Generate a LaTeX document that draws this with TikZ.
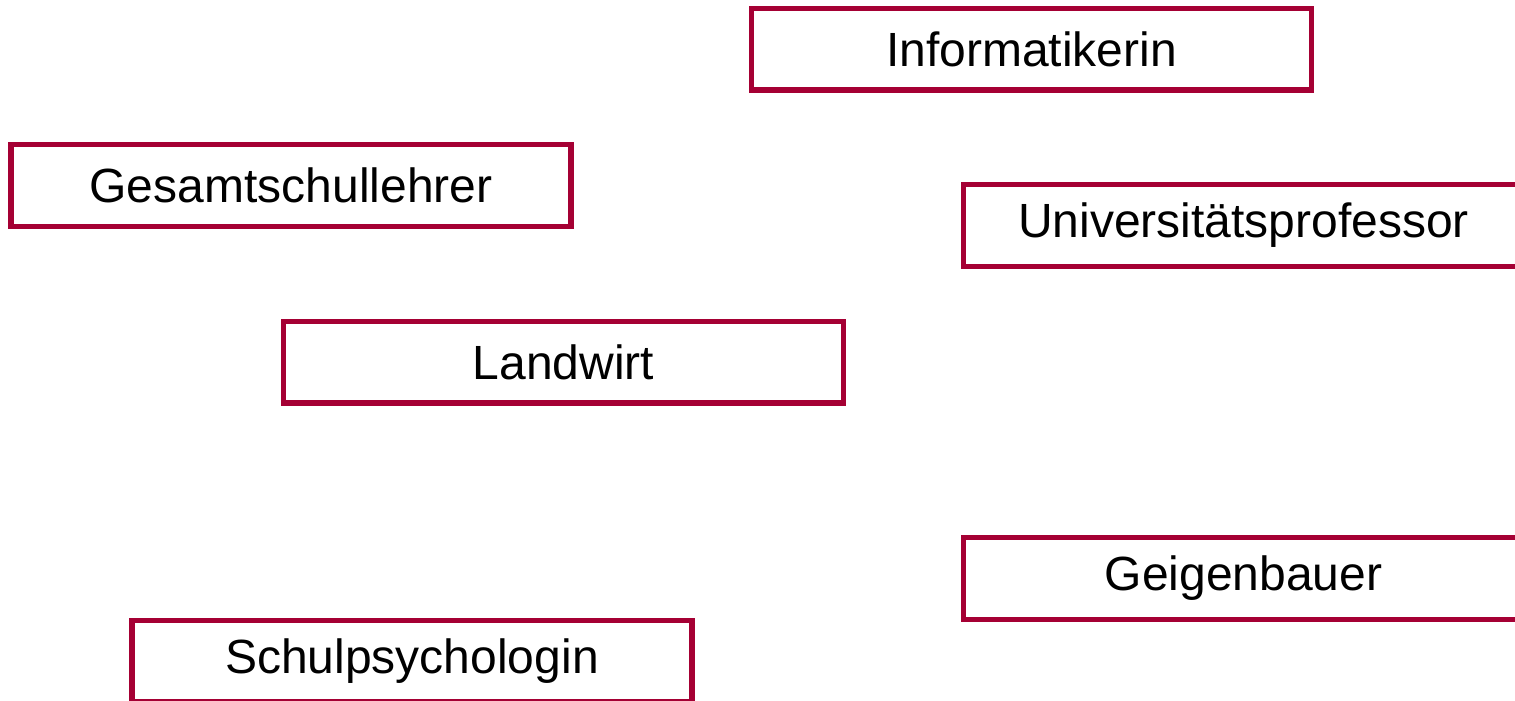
\documentclass[tikz,border=0pt]{standalone}
\usepackage{fontspec}
\setmainfont{Liberation Sans}
\definecolor{boxred}{RGB}{165,0,52}
\begin{document}
\begin{tikzpicture}[x=0.5pt,y=-0.5pt,
  jobbox/.style={draw=boxred, line width=2.6pt, rectangle, fill=none,
    minimum width=280pt, minimum height=40.75pt, inner sep=0pt,
    font=\fontsize{24pt}{28pt}\selectfont, text=black}]
\useasboundingbox (0,0) rectangle (1515,701);
\clip (0,0) rectangle (1515,701);
\node[jobbox] (inf) at (1031.5,49.25) {Informatikerin};
\node[jobbox] (ges) at (291,185.5) {Gesamtschullehrer};
\node[jobbox] (uni) at (1243.5,225.5) {Universitätsprofessor};
\node[jobbox] (land) at (563.5,362.25) {Landwirt};
\node[jobbox] (geig) at (1243.5,578.5) {Geigenbauer};
\node[jobbox] (schul) at (412,661) {Schulpsychologin};
\end{tikzpicture}
\end{document}
